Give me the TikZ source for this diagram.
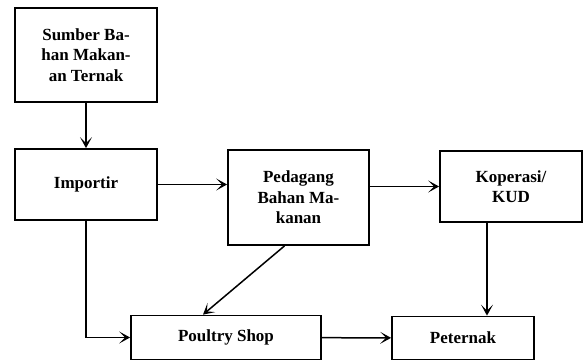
\documentclass[tikz,border=0pt]{standalone}
\usepackage{fontspec}
\setmainfont{Liberation Serif}
\usepackage{tikz}
\usetikzlibrary{positioning,arrows.meta}

\tikzset{
  box/.style={rectangle, draw=black, line width=1.8pt, fill=none, inner sep=0pt,
    align=center, font=\fontsize{17}{20.5}\selectfont\bfseries},
  arr/.style={line width=1.5pt, -{Stealth[length=11pt,width=12pt,inset=6pt]}}
}

\begin{document}
\begin{tikzpicture}[x=1pt,y=-1pt]%
  \useasboundingbox (0,0) rectangle (586,362);

  \node[box, minimum width=142pt, minimum height=94pt] (sumber) at (86,55)
    {Sumber Ba-\\han Makan-\\an Ternak};

  \node[box, minimum width=142pt, minimum height=71pt] (importir) at (86,184.5)
    {Importir};

  \node[box, minimum width=141pt, minimum height=95pt] (pedagang) at (298.5,197.5)
    {Pedagang\\Bahan Ma-\\kanan};

  \node[box, minimum width=142pt, minimum height=71pt] (koperasi) at (511,186.5)
    {Koperasi/\\KUD};

  \node[box, minimum width=190pt, minimum height=44pt] (poultry) at (226,337.5)
    {Poultry Shop};

  \node[box, minimum width=142pt, minimum height=43pt] (peternak) at (463,338)
    {Peternak};

      \draw [arr] (sumber) -- (importir);
      \draw [arr] (importir.east) -- (importir.east -| pedagang.west);
      \draw [arr] (koperasi.west -| pedagang.east) -- (koperasi.west);
      \draw [arr] ([xshift=-24pt]koperasi.south) -- ([xshift=-24pt]koperasi.south |- peternak.north);
      \draw [arr] (importir.south) |- (poultry.west);
      \draw [arr] ([xshift=-14pt]pedagang.south) -- ([xshift=-23pt]poultry.north);
      \draw [arr] (poultry) -- (peternak);
    \end{tikzpicture}
\end{document}
